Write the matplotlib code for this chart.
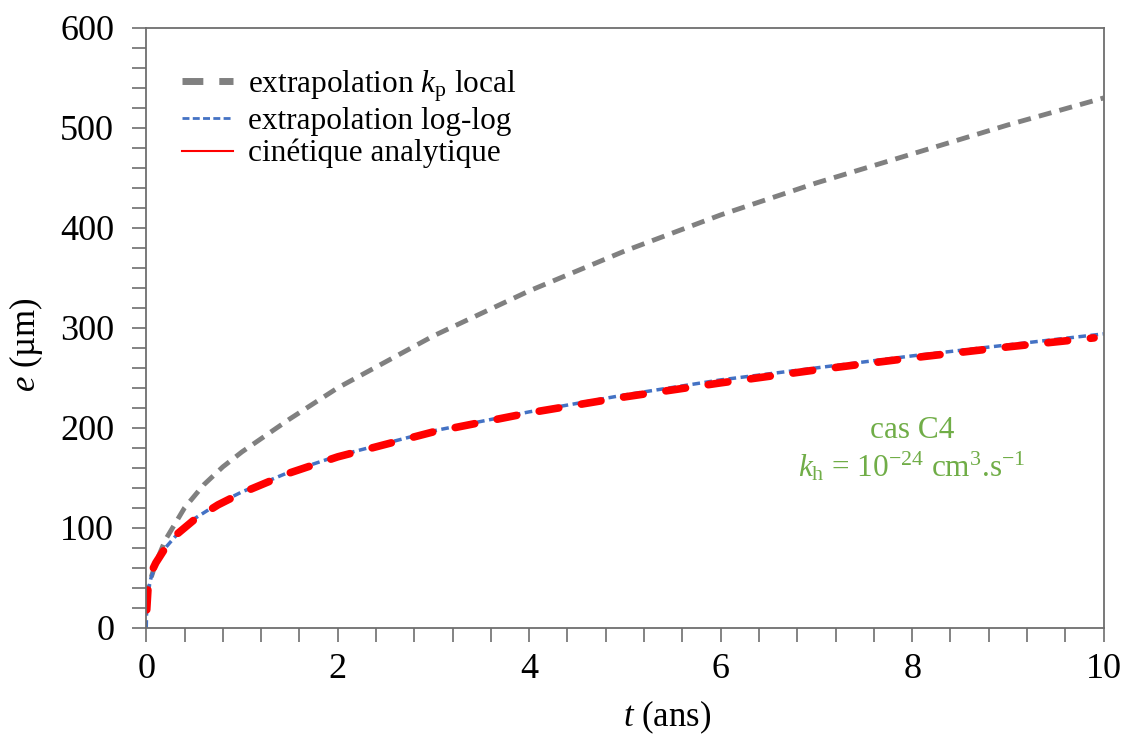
import numpy as np
from matplotlib import pyplot as plt
from matplotlib.lines import Line2D
from matplotlib.ticker import MultipleLocator

# extrapolation kp local
t_kp = [0.0, 0.02, 0.05, 0.1, 0.2, 0.4, 0.6, 0.8, 1.0, 1.5, 2.0, 3.0, 4.0, 5.0, 6.0, 7.0, 8.0, 9.0, 10.0]
e_kp = [30, 40, 50, 65, 88, 120, 143, 161, 176, 209, 240, 292, 337, 377, 413, 445, 474, 503, 530]

# extrapolation log-log
t_log = [0.0, 0.005, 0.02, 0.05, 0.1, 0.2, 0.3, 0.5, 0.75, 1.0, 1.5, 2.0, 3.0, 4.0, 5.0, 6.0, 7.0, 8.0, 9.0, 10.0]
e_log = [0, 22, 37, 50, 63, 80, 91, 109, 124, 136, 156, 172, 197, 216, 233, 248, 260, 272, 283, 294]

# cinétique analytique
t_ana = [0.005, 0.02, 0.05, 0.1, 0.2, 0.3, 0.5, 0.75, 1.0, 1.5, 2.0, 3.0, 4.0, 5.0, 6.0, 7.0, 8.0, 9.0, 9.9]
e_ana = [18, 42, 55, 65, 80, 92, 108, 123, 135, 155, 171, 196, 215, 231, 245, 258, 270, 281, 290]

plt.rcParams['font.family'] = ['Liberation Serif', 'DejaVu Serif']
plt.rcParams['mathtext.fontset'] = 'custom'
plt.rcParams['mathtext.rm'] = 'Liberation Serif'
plt.rcParams['mathtext.it'] = 'Liberation Serif:italic'
plt.rcParams['axes.unicode_minus'] = False

axcol = '#6e6e6e'
gris = '#808080'
bleu = '#4472C4'
rouge = '#FF0000'
vert = '#70AD47'

fig = plt.figure(figsize=(11.25, 7.36), dpi=100)
ax = fig.add_axes([0.130, 0.147, 0.851, 0.815])

ax.plot(t_kp, e_kp, color=gris, lw=3.5, dashes=(2.7, 1.7))
ax.plot(t_log, e_log, color=bleu, lw=2.5, dashes=(2.2, 1.3))
ax.plot(t_ana, e_ana, color=rouge, lw=5.5, dashes=(2.6, 3.0), dash_capstyle='round')

ax.set_xlim(0, 10)
ax.set_ylim(0, 600)
ax.xaxis.set_major_locator(MultipleLocator(2))
ax.xaxis.set_minor_locator(MultipleLocator(0.4))
ax.yaxis.set_major_locator(MultipleLocator(100))
ax.yaxis.set_minor_locator(MultipleLocator(20))
ax.tick_params(which='both', direction='out', color=axcol, width=1.2, labelsize=26)
ax.tick_params(which='both', length=10)
ax.tick_params(axis='x', pad=8)
ax.tick_params(axis='y', pad=13)
for s in ax.spines.values():
    s.set_color(axcol)
    s.set_linewidth(1.3)

ax.set_xlabel(r'$\mathit{t}$ (ans)', fontsize=25)
ax.set_ylabel(r'$\mathit{e}$ (µm)', fontsize=25)
ax.xaxis.set_label_coords(0.544, -0.118)
ax.yaxis.set_label_coords(-0.106, 0.4725)

ax.text(8.0, 197, 'cas C4', color=vert, fontsize=22.5, ha='center', va='center')
ax.text(8.0, 161, r'$\mathit{k}_{\mathrm{h}}$ = 10$^{\mathrm{-24}}$ cm$^{\mathrm{3}}$.s$^{\mathrm{-1}}$',
        color=vert, fontsize=22.5, ha='center', va='center')

handles = [Line2D([], [], color=gris, lw=5, dashes=(3.0, 2.3)),
           Line2D([], [], color=bleu, lw=2, dashes=(2.5, 1.2)),
           Line2D([], [], color=rouge, lw=1.5)]
labels = [r'extrapolation $\mathit{k}_{\mathrm{p}}$ local', 'extrapolation log-log', 'cinétique analytique']
ax.legend(handles, labels, loc='upper left', bbox_to_anchor=(0.008, 0.98), frameon=False,
          fontsize=22.5, handlelength=1.63, handletextpad=0.48, labelspacing=0.1)

plt.savefig('out.png', dpi=100)
